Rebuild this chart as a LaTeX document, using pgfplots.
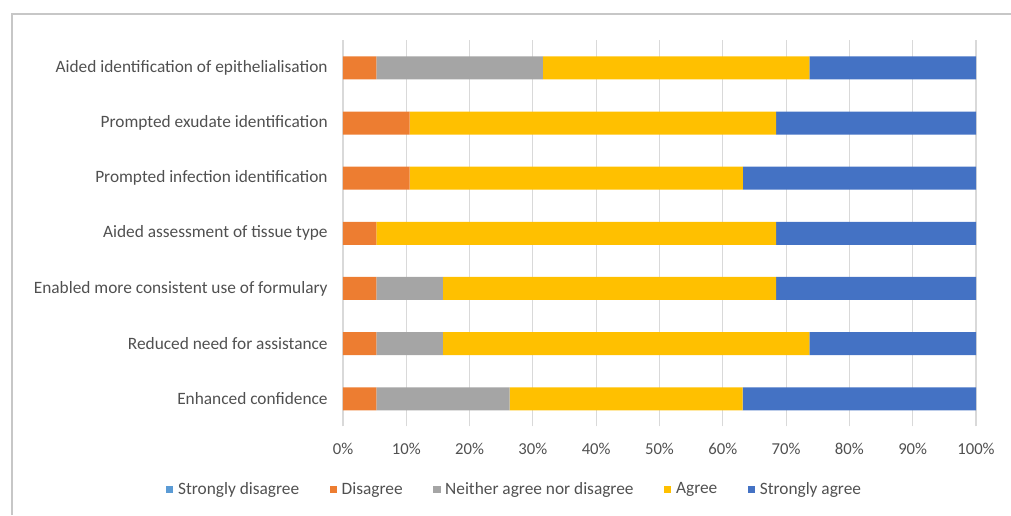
\documentclass[border=0pt]{standalone}
\usepackage{fontspec}
\setmainfont{Carlito}
\usepackage{pgfplots}
\pgfplotsset{compat=1.18}
\definecolor{sdis}{HTML}{5B9BD5}
\definecolor{dis}{HTML}{ED7D31}
\definecolor{neu}{HTML}{A5A5A5}
\definecolor{agr}{HTML}{FFC000}
\definecolor{sagr}{HTML}{4472C4}
\definecolor{txt}{HTML}{505050}
\begin{document}
\begin{tikzpicture}
% 1 px of the reference = 0.75pt
\useasboundingbox (0,0) rectangle (758.25pt,386.25pt);
\draw[color=black!22, line width=1.1pt] (9pt,0) -- (9pt,375.75pt) -- (758.25pt,375.75pt);
\begin{axis}[
    at={(257.25pt,66.5pt)}, anchor=south west,
    scale only axis,
    width=474.75pt, height=289.5pt,
    xbar stacked,
    bar width=17.25pt,
    xmin=0, xmax=100,
    ymin=-0.5, ymax=6.5,
    xtick={0,10,...,100},
    xticklabel={\pgfmathprintnumber{\tick}\%},
    ytick={0,...,6},
    yticklabels={Enhanced confidence, Reduced need for assistance,
        Enabled more consistent use of formulary, Aided assessment of tissue type,
        Prompted infection identification, Prompted exudate identification,
        Aided identification of epithelialisation},
    major tick length=0pt,
    axis line style={draw=none},
    xmajorgrids, ymajorgrids=false,
    major grid style={color=black!15, line width=0.8pt},
    tick label style={font=\fontsize{13}{15}\selectfont, text=txt},
    xticklabel style={font=\fontsize{12.5}{15}\selectfont, yshift=-9pt},
    /pgf/number format/assume math mode=true,
    yticklabel style={xshift=-8pt},
    legend columns=-1,
    legend style={
        at={(0.2717,-0.163)}, anchor=center,
        draw=none, fill=none,
        font=\fontsize{13}{15}\selectfont, text=txt,
        /tikz/every even column/.append style={column sep=21pt},
        /tikz/every odd column/.append style={column sep=1.5pt},
    },
    legend image code/.code={\fill[#1] (0pt,-2.8pt) rectangle (5.4pt,2.8pt);},
    every axis plot/.append style={draw=none},
]
\addplot[fill=sdis] coordinates {(0,0) (0,1) (0,2) (0,3) (0,4) (0,5) (0,6)};
\addlegendentry{Strongly disagree}
\addplot[fill=dis] coordinates {(5.26,0) (5.26,1) (5.26,2) (5.26,3) (10.53,4) (10.53,5) (5.26,6)};
\addlegendentry{Disagree}
\addplot[fill=neu] coordinates {(21.05,0) (10.53,1) (10.53,2) (0,3) (0,4) (0,5) (26.32,6)};
\addlegendentry{Neither agree nor disagree}
\addplot[fill=agr] coordinates {(36.84,0) (57.89,1) (52.63,2) (63.16,3) (52.63,4) (57.89,5) (42.11,6)};
\addlegendentry{Agree}
\addplot[fill=sagr] coordinates {(36.85,0) (26.32,1) (31.58,2) (31.58,3) (36.84,4) (31.58,5) (26.31,6)};
\addlegendentry{Strongly agree}
\end{axis}
\end{tikzpicture}
\end{document}
